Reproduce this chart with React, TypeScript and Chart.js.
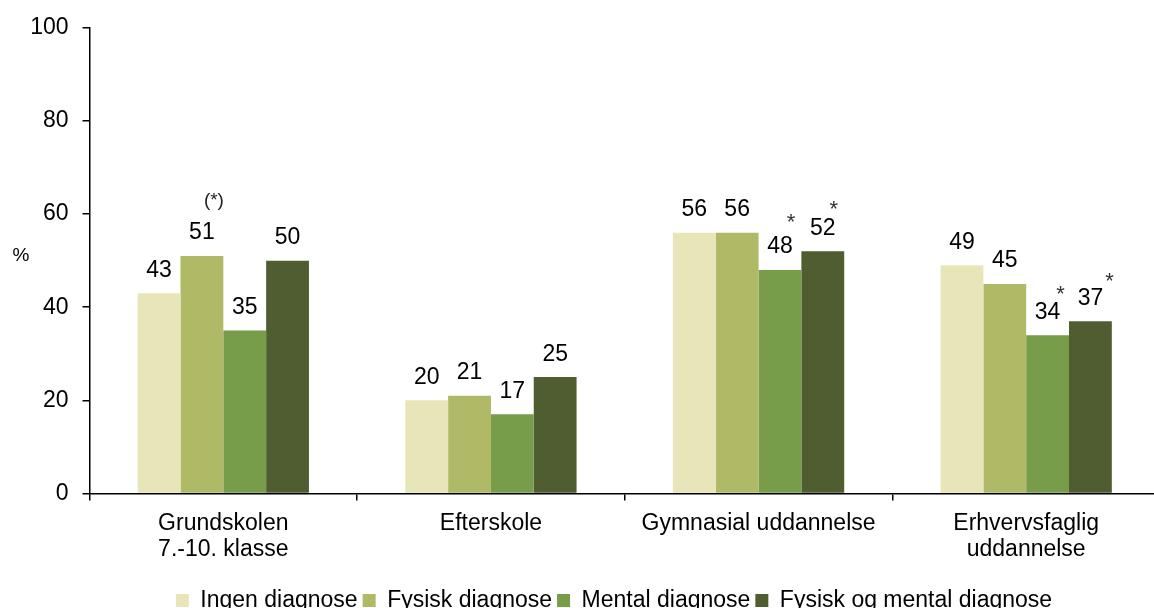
import React, { useEffect, useRef } from "react";
import { Chart, registerables } from "chart.js";

Chart.register(...registerables);

const categories: (string | string[])[] = [
  ["Grundskolen", "7.-10. klasse"],
  "Efterskole",
  "Gymnasial uddannelse",
  ["Erhvervsfaglig", "uddannelse"],
];
const seriesNames = ["Ingen diagnose", "Fysisk diagnose", "Mental diagnose", "Fysisk og mental diagnose"];
const ingenDiagnose = [43, 20, 56, 49];
const fysiskDiagnose = [51, 21, 56, 45];
const mentalDiagnose = [35, 17, 48, 34];
const fysiskOgMental = [50, 25, 52, 37];
const yTicks = [0, 20, 40, 60, 80, 100];
const yUnit = "%";
// significance markers: series index, category index, text
const noteSeries = [1, 2, 3, 2, 3];
const noteCategory = [0, 2, 2, 3, 3];
const noteText = ["(*)", "*", "*", "*", "*"];

const colors = ["#E8E6B8", "#AFB966", "#779D4A", "#4F5D31"];
const FONT = '"Liberation Sans", Arial, Helvetica, sans-serif';
// placement of markers relative to the value label (style only)
const noteDx = [12, 11, 11, 13, 19];
const noteDy = [-33, -24, -19, -18, -17];
const LEGEND_SHIFT = 34;

const labelPlugin = {
  id: "valueLabels",
  afterLayout(chart: any) {
    const lg = chart.legend;
    if (lg) {
      lg.left += LEGEND_SHIFT;
      lg.right += LEGEND_SHIFT;
    }
  },
  afterDatasetsDraw(chart: any) {
    const ctx = chart.ctx;
    ctx.save();
    ctx.fillStyle = "#000";
    ctx.textAlign = "center";
    ctx.textBaseline = "alphabetic";
    ctx.font = `23px ${FONT}`;
    chart.data.datasets.forEach((ds: any, i: number) => {
      const meta = chart.getDatasetMeta(i);
      meta.data.forEach((bar: any, j: number) => {
        ctx.fillText(String(ds.data[j]), bar.x, bar.y - 16.5);
      });
    });
    noteText.forEach((t, k) => {
      const bar = chart.getDatasetMeta(noteSeries[k]).data[noteCategory[k]];
      const base = bar.y - 16.5;
      if (t === "*") {
        ctx.font = `22px ${FONT}`;
        ctx.fillStyle = "#333";
      } else {
        ctx.font = `19px ${FONT}`;
        ctx.fillStyle = "#222";
      }
      ctx.fillText(t, bar.x + noteDx[k], base + noteDy[k]);
    });
    // unit label
    ctx.font = `19px ${FONT}`;
    ctx.fillStyle = "#000";
    ctx.textBaseline = "middle";
    ctx.fillText(yUnit, 21, 256);
    ctx.restore();
  },
};

export default function App() {
  const ref = useRef<HTMLCanvasElement | null>(null);
  useEffect(() => {
    if (!ref.current) return;
    Chart.defaults.font.family = FONT;
    const chart = new Chart(ref.current, {
      type: "bar",
      data: {
        labels: categories,
        datasets: [ingenDiagnose, fysiskDiagnose, mentalDiagnose, fysiskOgMental].map((d, i) => ({
          label: seriesNames[i],
          data: d,
          backgroundColor: colors[i],
          borderWidth: 0,
          categoryPercentage: 0.64,
          barPercentage: 1,
        })),
      },
      options: {
        animation: false,
        responsive: false,
        devicePixelRatio: 1,
        layout: { padding: { top: 27, left: 0, right: 0, bottom: 0 } },
        plugins: {
          legend: {
            position: "bottom",
            labels: {
              color: "#000",
              font: { size: 23, family: FONT },
              boxWidth: 13,
              boxHeight: 13,
              padding: 5,
            },
          },
          tooltip: { enabled: false },
        },
        scales: {
          x: {
            grid: { drawOnChartArea: false, drawTicks: true, tickLength: 7, color: "#000", lineWidth: 1.5 },
            border: { color: "#000", width: 1.5 },
            ticks: {
              color: "#000",
              font: { size: 23, family: FONT, lineHeight: 1.13 },
              padding: 10,
              maxRotation: 0,
              autoSkip: false,
            },
            afterFit: (s: any) => {
              s.height = 90.5;
            },
          },
          y: {
            min: yTicks[0],
            max: yTicks[yTicks.length - 1],
            afterBuildTicks: (s: any) => {
              s.ticks = yTicks.map((v) => ({ value: v }));
            },
            grid: { drawOnChartArea: false, drawTicks: true, tickLength: 7, color: "#000", lineWidth: 1.5 },
            border: { color: "#000", width: 1.5 },
            ticks: { color: "#000", font: { size: 23, family: FONT }, padding: 14 },
            afterFit: (s: any) => {
              s.width = 89.5;
            },
          },
        },
      },
      plugins: [labelPlugin],
    });
    return () => chart.destroy();
  }, []);
  return (
    <div
      style={{
        position: "fixed",
        left: 0,
        top: 0,
        width: 1154,
        height: 608,
        overflow: "hidden",
        background: "#fff",
      }}
    >
      <canvas ref={ref} width={1160} height={622} style={{ width: 1160, height: 622, display: "block" }} />
    </div>
  );
}
